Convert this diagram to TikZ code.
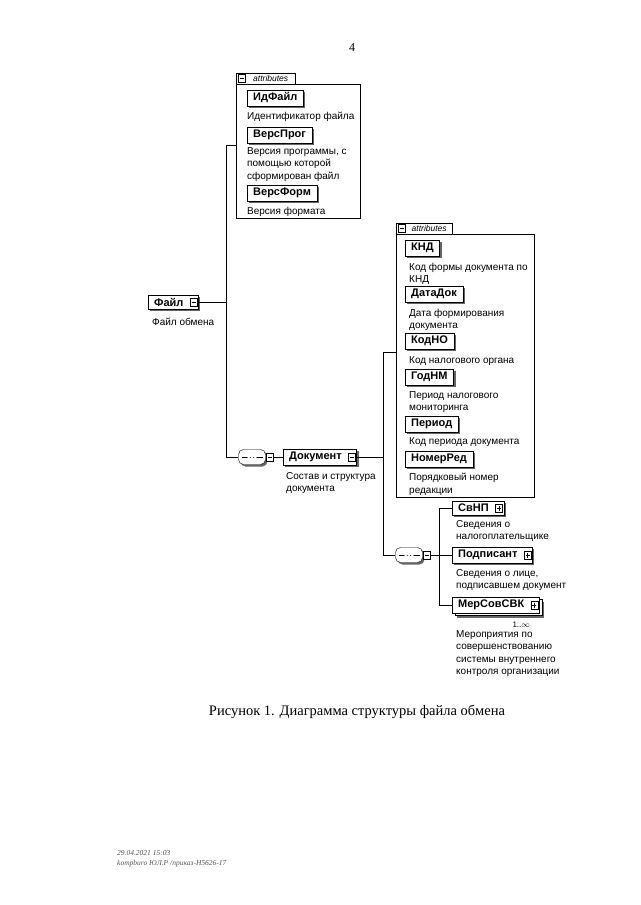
\documentclass[tikz,border=0pt]{standalone}
\usepackage{fontspec}
\setmainfont{Liberation Sans}
\newfontfamily\serifcap{Liberation Serif}
\usetikzlibrary{positioning}
\usetikzlibrary{calc}
\usetikzlibrary{shadows}

\begin{document}
\begin{tikzpicture}[x=1pt,y=-1pt,
    boxshadow/.style={general shadow={fill=black!60, shadow xshift=#1, shadow yshift=-#1}},
    boxshadow/.default=2pt,
    itembox/.style={draw, fill=white, inner xsep=6, inner ysep=3, anchor=west,
        font=\bfseries\fontsize{11}{12}\selectfont},
    attrname/.style={itembox, boxshadow},
    elem/.style={itembox, boxshadow, execute at end node={\hspace{9pt}}},
    multielem/.style={itembox, boxshadow=5pt,
        general shadow={draw=black, fill=white, shadow xshift=2.5pt, shadow yshift=-2.5pt},
        execute at end node={\hspace{9pt}}},
    descr/.style={anchor=north west, inner sep=0, align=left, font=\fontsize{10}{12.5}\selectfont},
    attrlist/.style={draw, anchor=north west, inner sep=0},
    attrtab/.style={draw, fill=white, anchor=south west, inner sep=0, minimum height=11,
        font=\itshape\fontsize{8.5}{9}\selectfont},
    iconbox/.style={draw, fill=white, minimum width=7, minimum height=8, inner sep=0},
    minusicon/.style={iconbox,
        path picture={\draw ($(path picture bounding box.west)+(1.5,0)$) -- ($(path picture bounding box.east)+(-1.5,0)$);}},
    plusicon/.style={iconbox,
        path picture={\draw ($(path picture bounding box.west)+(1.5,0)$) -- ($(path picture bounding box.east)+(-1.5,0)$);
            \draw ($(path picture bounding box.north)+(0,1.5)$) -- ($(path picture bounding box.south)+(0,-1.5)$);}},
    seqbox/.style={draw, fill=white, minimum width=27, minimum height=15, inner sep=0, rounded corners=5pt, boxshadow,
        path picture={\draw[line width=0.8pt] ($(path picture bounding box.west)+(3,0)$) -- ($(path picture bounding box.east)+(-3,0)$);
            \foreach \d in {-3.2,0,3.2} \fill ($(path picture bounding box.center)+(\d,0)$) circle[radius=1.6pt];}}
]
\useasboundingbox (0,0) rectangle (640,905);

\node[font=\serifcap\fontsize{12}{14}\selectfont] (pagenum) at (352,48) {4};

% Файл and its attributes
\node[attrlist, minimum width=124, minimum height=134] (fileattrs) at (236,84) {};
\node[attrtab, minimum width=59] (filetab) at (236,84) {\hspace{10pt}attributes\hspace{3pt}};
\node[minusicon] (filetabm) at ([xshift=6]filetab.west) {};
\node[attrname] (idfile) at (247,98) {ИдФайл};
\node[descr] (idfiled) at (247,112) {Идентификатор файла};
\node[attrname] (versprog) at (247,135) {ВерсПрог};
\node[descr] (versprogd) at (247,147) {Версия программы, с\\помощью которой\\сформирован файл};
\node[attrname] (versform) at (247,193) {ВерсФорм};
\node[descr] (versformd) at (247,207) {Версия формата};

\node[elem] (file) at (148,302) {Файл};
\node[minusicon] (filem) at ([xshift=-5]file.east) {};
\node[descr] (filed) at (152,318) {Файл обмена};

\coordinate (trunkA) at (226,145);
\coordinate (trunkAend) at (226,457);
\draw (trunkA) -- (trunkA -| fileattrs.west);
\draw (filem.east) -- (filem.east -| trunkA);

% Документ
\node[seqbox] (seqa) at (252,457) {};
\node[minusicon, right=0.5pt of seqa] (seqam) {};
\draw (trunkA) -- (trunkAend) -- (seqa.west);
\node[elem] (doc) at (283,457) {Документ};
\node[minusicon] (docm) at ([xshift=-5]doc.east) {};
\draw (seqam.east) -- (doc.west);
\node[descr] (docd) at (286,472) {Состав и структура\\документа};

\node[attrlist, minimum width=138, minimum height=263] (docattrs) at (396,234) {};
\node[attrtab, minimum width=56] (doctab) at (396,234) {\hspace{10pt}attributes\hspace{1pt}};
\node[minusicon] (doctabm) at ([xshift=6]doctab.west) {};
\node[attrname] (knd) at (405,248) {КНД};
\node[descr] (kndd) at (409,263) {Код формы документа по\\КНД};
\node[attrname] (datadok) at (405,294) {ДатаДок};
\node[descr] (datadokd) at (409,309) {Дата формирования\\документа};
\node[attrname] (kodno) at (405,341) {КодНО};
\node[descr] (kodnod) at (409,356) {Код налогового органа};
\node[attrname] (godnm) at (405,377) {ГодНМ};
\node[descr] (godnmd) at (409,391) {Период налогового\\мониторинга};
\node[attrname] (period) at (405,424) {Период};
\node[descr] (periodd) at (409,437) {Код периода документа};
\node[attrname] (nomerred) at (405,459) {НомерРед};
\node[descr] (nomerredd) at (409,473) {Порядковый номер\\редакции};

\coordinate (trunkB) at (383,352);
\draw (docm.east) -- (docm.east -| trunkB);
\draw (trunkB) -- (trunkB -| docattrs.west);

% вложенная последовательность
\node[seqbox] (seqb) at (409,555) {};
\node[minusicon, right=0.5pt of seqb] (seqbm) {};
\draw (trunkB) -- (trunkB |- seqb.west) -- (seqb.west);

\node[elem] (svnp) at (452,508) {СвНП};
\node[plusicon] (svnpp) at ([xshift=-5]svnp.east) {};
\node[descr] (svnpd) at (456,520) {Сведения о\\налогоплательщике};
\node[elem] (podp) at (452,555) {Подписант};
\node[plusicon] (podpp) at ([xshift=-5]podp.east) {};
\node[descr] (podpd) at (456,569) {Сведения о лице,\\подписавшем документ};
\node[multielem] (mer) at (452,605) {МерСовСВК};
\node[plusicon] (merp) at ([xshift=-5]mer.east) {};
\node[font=\fontsize{8}{9}\selectfont, anchor=north east] (merocc) at ([xshift=-6,yshift=-5]mer.south east) {1..$\infty$};
\node[descr] (merd) at (456,630) {Мероприятия по\\совершенствованию\\системы внутреннего\\контроля организации};

\coordinate (trunkC) at (439,508);
\draw (seqbm.east) -- (seqbm.east -| trunkC);
\draw (svnp.west -| trunkC) -- (mer.west -| trunkC);
\foreach \n in {svnp,podp,mer}
    \draw (\n.west -| trunkC) -- (\n.west);

\node[font=\serifcap\fontsize{14.5}{16}\selectfont] (caption) at (357,712) {Рисунок 1. Диаграмма структуры файла обмена};

\node[anchor=north west, inner sep=0, align=left, text=black!65,
    font=\serifcap\itshape\fontsize{7.5}{10}\selectfont] (stamp) at (117,850) {29.04.2021 15:03\\kompburo ЮЛ.Р /приказ-Н5626-17};
\end{tikzpicture}
\end{document}
